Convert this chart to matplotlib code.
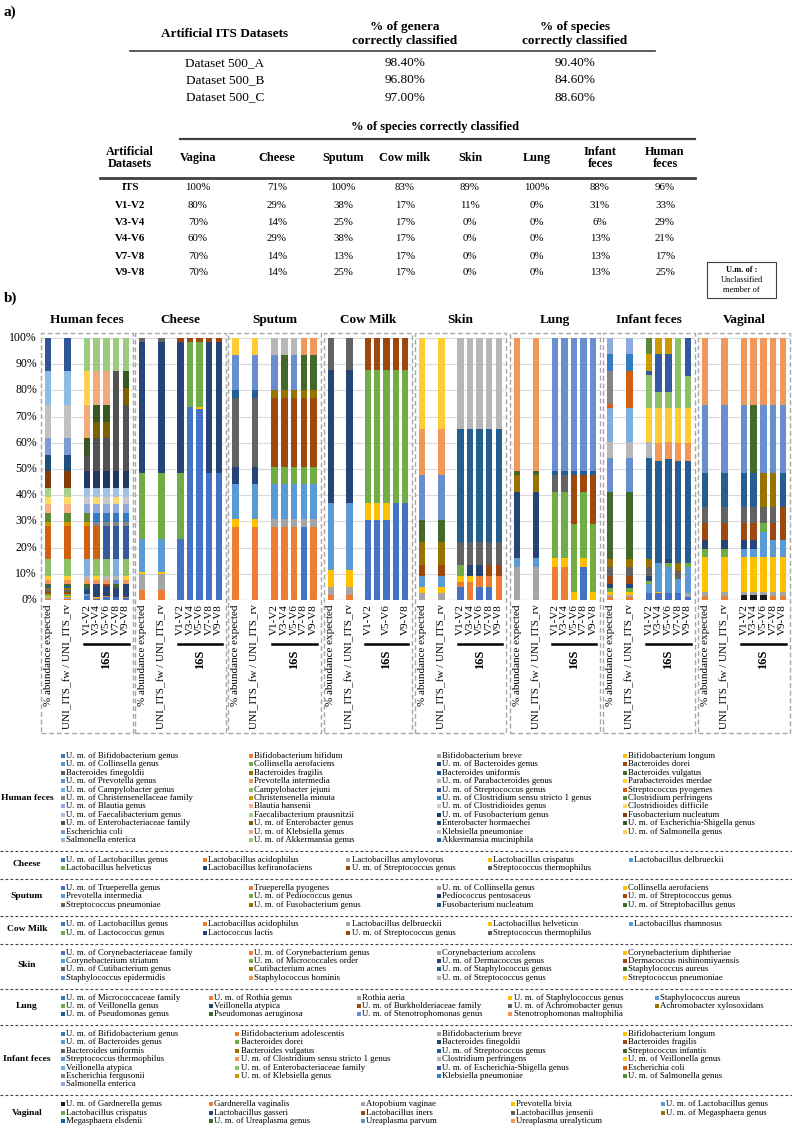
import matplotlib
matplotlib.use('Agg')
import matplotlib.pyplot as plt
from matplotlib.patches import Rectangle
from matplotlib.lines import Line2D
import math

plt.rcParams['font.family'] = ['Liberation Serif', 'DejaVu Serif']

W, H = 792, 1132
fig = plt.figure(figsize=(W / 100, H / 100), dpi=100)


def fx(x):
    return x / W


def fy(y):
    return 1 - y / H


def txt(x, y, s, **kw):
    kw.setdefault('ha', 'center')
    kw.setdefault('va', 'center')
    fig.text(fx(x), fy(y), s, **kw)


def hline(x0, x1, y, lw=1.0, color='#404040', ls='-'):
    fig.add_artist(Line2D([fx(x0), fx(x1)], [fy(y), fy(y)], lw=lw, color=color, ls=ls,
                          transform=fig.transFigure))


# ------------------------------------------------------------------ data: tables
tab1_header = ["Artificial ITS Datasets", "% of genera\ncorrectly classified", "% of species\ncorrectly classified"]
tab1_rows = ["Dataset 500_A", "Dataset 500_B", "Dataset 500_C"]
tab1_genera = ["98.40%", "96.80%", "97.00%"]
tab1_species = ["90.40%", "84.60%", "88.60%"]

tab2_cols = ["Vagina", "Cheese", "Sputum", "Cow milk", "Skin", "Lung", "Infant\nfeces", "Human\nfeces"]
tab2_rows = ["ITS", "V1-V2", "V3-V4", "V4-V6", "V7-V8", "V9-V8"]
tab2_values = [
    [100, 71, 100, 83, 89, 100, 88, 96],
    [80, 29, 38, 17, 11, 0, 31, 33],
    [70, 14, 25, 17, 0, 0, 6, 29],
    [60, 29, 38, 17, 0, 0, 13, 21],
    [70, 14, 13, 17, 0, 0, 13, 17],
    [70, 14, 25, 17, 0, 0, 13, 25],
]

# ------------------------------------------------------------------ data: stacked bars
# each column: {series number: % abundance}; series number = legend order
bar_columns = ["% abundance expected", "UNI_ITS_fw / UNI_ITS_rv", "V1-V2", "V3-V4", "V5-V6", "V7-V8", "V9-V8"]
cow_columns = ["% abundance expected", "UNI_ITS_fw / UNI_ITS_rv", "V1-V2", "", "V5-V6", "", "V9-V8"]

hf_expected = {2: 0.4, 3: 0.6, 4: 0.6, 6: 0.7, 8: 0.8, 9: 0.6, 10: 0.7, 11: 0.8, 12: 0.9, 14: 1.5, 16: 1.6,
               18: 6.4, 20: 12.8, 22: 1.5, 24: 3.4, 26: 3.2, 28: 2.9, 30: 3.2, 32: 6.6, 35: 6.1, 37: 6.4,
               39: 12.7, 41: 13.0, 43: 12.6}
human_feces_values = [
    hf_expected,
    hf_expected,
    {1: 1.5, 5: 0.7, 7: 1.5, 11: 0.8, 12: 1.6, 14: 1.5, 15: 1.6, 17: 6.4, 20: 12.8, 22: 1.5, 24: 3.4, 25: 3.2,
     27: 2.9, 29: 3.2, 31: 6.6, 33: 6.1, 36: 6.4, 38: 12.7, 40: 13.0, 42: 12.6},
    {1: 0.4, 2: 0.4, 4: 0.5, 7: 4.8, 14: 1.5, 16: 1.6, 18: 6.4, 20: 12.8, 21: 1.5, 23: 3.4, 25: 3.2, 28: 2.9,
     29: 3.2, 31: 6.6, 33: 12.5, 34: 6.3, 36: 6.4, 38: 13.0, 42: 12.6},
    {1: 1.0, 2: 0.5, 7: 4.0, 8: 0.6, 14: 1.5, 15: 1.6, 18: 6.4, 19: 12.8, 21: 1.5, 23: 3.4, 25: 3.2, 27: 2.9,
     29: 3.2, 31: 6.6, 33: 12.5, 34: 6.3, 36: 6.4, 38: 13.0, 42: 12.6},
    {1: 1.3, 7: 3.4, 12: 1.4, 13: 1.5, 15: 1.6, 17: 6.4, 19: 12.8, 21: 1.5, 23: 3.4, 25: 3.2, 28: 2.9, 29: 3.2,
     31: 6.6, 33: 38.2, 42: 12.6},
    {1: 0.8, 2: 0.5, 7: 4.8, 14: 1.5, 16: 1.6, 18: 6.4, 19: 12.8, 21: 1.5, 23: 3.4, 25: 3.2, 27: 2.9, 29: 3.2,
     31: 6.6, 33: 25.2, 34: 6.4, 36: 6.6, 42: 12.6},
]

cheese_expected = {2: 3.8, 3: 6.2, 4: 0.8, 5: 12.5, 6: 25.0, 7: 50.2, 9: 1.5}
cheese_values = [
    cheese_expected,
    cheese_expected,
    {1: 23.3, 6: 25.0, 7: 50.2, 8: 1.5},
    {1: 73.8, 6: 24.7, 8: 1.5},
    {1: 72.8, 4: 0.7, 6: 25.0, 8: 1.5},
    {1: 48.3, 7: 50.2, 8: 1.5},
    {1: 48.3, 7: 50.2, 8: 1.5},
]

sputum_expected = {2: 27.7, 4: 3.1, 5: 13.5, 7: 6.3, 9: 26.4, 11: 3.2, 13: 13.3, 16: 6.5}
sputum_values = [
    sputum_expected,
    sputum_expected,
    {2: 27.7, 3: 3.1, 5: 13.5, 6: 6.3, 8: 26.4, 10: 3.2, 13: 13.3, 15: 6.5},
    {2: 27.7, 3: 3.1, 5: 13.5, 6: 6.3, 8: 26.4, 10: 3.2, 12: 13.3, 15: 6.5},
    {2: 27.7, 3: 3.1, 5: 13.5, 6: 6.3, 8: 26.4, 10: 3.2, 13: 13.3, 15: 6.5},
    {1: 27.7, 3: 3.1, 5: 13.5, 6: 6.3, 8: 26.4, 10: 3.2, 12: 13.3, 14: 6.5},
    {2: 27.7, 3: 3.1, 5: 13.5, 6: 6.3, 8: 26.4, 10: 3.2, 12: 13.3, 14: 6.5},
]

cow_expected = {2: 1.9, 3: 2.9, 4: 6.7, 5: 25.4, 7: 50.9, 9: 12.2}
cow_milk_values = [
    cow_expected,
    cow_expected,
    {1: 30.5, 4: 6.4, 6: 50.9, 8: 12.2},
    {1: 30.5, 4: 6.4, 6: 50.9, 8: 12.2},
    {1: 30.5, 4: 6.4, 6: 50.9, 8: 12.2},
    {1: 36.9, 6: 50.9, 8: 12.2},
    {1: 36.9, 6: 50.9, 8: 12.2},
]

skin_expected = {3: 2.5, 4: 2.3, 5: 4.4, 8: 4.2, 10: 8.6, 12: 8.5, 13: 17.3, 14: 17.5, 16: 34.7}
skin_values = [
    skin_expected,
    skin_expected,
    {1: 4.8, 2: 2.2, 4: 2.2, 6: 4.2, 9: 8.6, 11: 43.3, 15: 34.7},
    {2: 7.0, 4: 2.2, 7: 4.2, 9: 8.6, 11: 43.3, 15: 34.7},
    {1: 4.8, 2: 4.4, 7: 4.2, 9: 8.6, 11: 43.3, 15: 34.7},
    {1: 4.8, 2: 4.4, 8: 4.2, 9: 8.6, 11: 43.3, 15: 34.7},
    {2: 9.2, 8: 4.2, 9: 8.6, 11: 43.3, 15: 34.7},
]

lung_expected = {3: 12.7, 5: 3.2, 7: 25.4, 10: 6.4, 12: 1.7, 14: 50.6}
lung_values = [
    lung_expected,
    lung_expected,
    {2: 12.7, 4: 3.2, 6: 25.4, 9: 6.4, 11: 1.7, 13: 50.6},
    {2: 12.7, 4: 3.2, 6: 25.4, 9: 6.4, 11: 1.7, 13: 50.6},
    {4: 3.2, 6: 25.7, 8: 18.8, 11: 1.7, 13: 50.6},
    {1: 12.7, 4: 3.2, 6: 25.4, 8: 6.4, 11: 1.7, 13: 50.6},
    {4: 3.2, 6: 25.7, 8: 18.8, 11: 1.7, 13: 50.6},
]

infant_feces_values = [
    {2: 1.3, 3: 0.6, 4: 1.3, 6: 1.3, 7: 1.6, 8: 3.1, 9: 3.3, 10: 3.0, 12: 25.6, 13: 13.0, 15: 6.3, 17: 12.8,
     20: 1.6, 21: 12.7, 23: 6.4, 25: 6.1},
    {2: 1.3, 3: 0.6, 4: 1.3, 6: 1.3, 7: 1.6, 8: 3.1, 9: 3.3, 10: 3.0, 12: 25.6, 13: 13.0, 15: 6.3, 17: 12.8,
     20: 14.3, 23: 6.4, 25: 6.1},
    {1: 2.5, 5: 3.6, 6: 1.3, 7: 1.8, 9: 3.3, 10: 3.0, 11: 38.6, 15: 6.3, 16: 12.8, 18: 12.7, 19: 1.6, 22: 6.4,
     24: 6.1},
    {1: 2.5, 4: 0.7, 5: 11.0, 11: 39.0, 14: 6.6, 16: 13.4, 18: 6.3, 19: 14.4, 22: 6.1},
    {1: 2.5, 5: 10.0, 6: 1.5, 7: 1.5, 11: 38.3, 14: 6.6, 16: 12.8, 18: 6.3, 19: 14.4, 22: 6.1},
    {1: 2.5, 5: 5.4, 9: 3.3, 10: 3.0, 11: 39.0, 14: 6.6, 16: 13.4, 18: 26.8},
    {1: 1.3, 3: 1.2, 5: 10.0, 6: 1.7, 11: 39.0, 14: 6.6, 16: 13.4, 18: 12.4, 19: 14.4},
]

vag_expected = {2: 1.7, 3: 1.5, 4: 13.1, 6: 3.2, 7: 3.4, 8: 6.4, 9: 6.3, 11: 13.0, 13: 25.8, 14: 25.6}
vaginal_values = [
    vag_expected,
    vag_expected,
    {1: 1.9, 3: 1.3, 4: 13.1, 5: 3.2, 7: 3.4, 8: 6.4, 9: 6.3, 11: 13.0, 13: 25.8, 14: 25.6},
    {1: 1.9, 3: 1.3, 4: 13.1, 5: 3.2, 7: 3.4, 8: 6.4, 9: 6.3, 11: 13.0, 12: 25.8, 14: 25.6},
    {1: 1.9, 3: 1.3, 4: 13.1, 5: 9.8, 6: 3.2, 9: 6.3, 10: 13.0, 13: 25.8, 14: 25.6},
    {2: 1.7, 3: 1.5, 4: 13.1, 5: 6.6, 8: 6.4, 9: 6.3, 10: 13.0, 13: 25.8, 14: 25.6},
    {2: 1.7, 3: 1.5, 4: 13.1, 5: 6.6, 8: 12.7, 11: 13.0, 13: 25.8, 14: 25.6},
]

# ------------------------------------------------------------------ data: legend names
human_feces_names = [
    "U. m. of Bifidobacterium genus", "Bifidobacterium bifidum", "Bifidobacterium breve", "Bifidobacterium longum",
    "U. m. of Collinsella genus", "Collinsella aerofaciens", "U. m. of Bacteroides genus", "Bacteroides dorei",
    "Bacteroides finegoldii", "Bacteroides fragilis", "Bacteroides uniformis", "Bacteroides vulgatus",
    "U. m. of Prevotella genus", "Prevotella intermedia", "U. m. of Parabacteroides genus", "Parabacteroides merdae",
    "U. m. of Campylobacter genus", "Campylobacter jejuni", "U. m. of Streptococcus genus", "Streptococcus pyogenes",
    "U. m. of Christensenellaceae family", "Christensenella minuta", "U. m. of Clostridium sensu stricto 1 genus",
    "Clostridium perfringens",
    "U. m. of Blautia genus", "Blautia hansenii", "U. m. of Clostridioides genus", "Clostridioides difficile",
    "U. m. of Faecalibacterium genus", "Faecalibacterium prausnitzii", "U. m. of Fusobacterium genus",
    "Fusobacterium nucleatum",
    "U. m. of Enterobacteriaceae family", "U. m. of Enterobacter genus", "Enterobacter hormaechei",
    "U. m. of Escherichia-Shigella genus",
    "Escherichia coli", "U. m. of Klebsiella genus", "Klebsiella pneumoniae", "U. m. of Salmonella genus",
    "Salmonella enterica", "U. m. of Akkermansia genus", "Akkermansia muciniphila"]
cheese_names = ["U. m. of Lactobacillus genus", "Lactobacillus acidophilus", "Lactobacillus amylovorus",
                "Lactobacillus crispatus", "Lactobacillus delbrueckii", "Lactobacillus helveticus",
                "Lactobacillus kefiranofaciens", "U. m. of Streptococcus genus", "Streptococcus thermophilus"]
sputum_names = ["U. m. of Trueperella genus", "Trueperella pyogenes", "U. m. of Collinsella genus",
                "Collinsella aerofaciens", "Prevotella intermedia", "U. m. of Pediococcus genus",
                "Pediococcus pentosaceus", "U. m. of Streptococcus genus", "Streptococcus pneumoniae",
                "U. m. of Fusobacterium genus", "Fusobacterium nucleatum", "U. m. of Streptobacillus genus"]
cow_milk_names = ["U. m. of Lactobacillus genus", "Lactobacillus acidophilus", "Lactobacillus delbrueckii",
                  "Lactobacillus helveticus", "Lactobacillus rhamnosus", "U. m. of Lactococcus genus",
                  "Lactococcus lactis", "U. m. of Streptococcus genus", "Streptococcus thermophilus"]
skin_names = ["U. m. of Corynebacteriaceae family", "U. m. of Corynebacterium genus", "Corynebacterium accolens",
              "Corynebacterium diphtheriae", "Corynebacterium striatum", "U. m. of Micrococcales order",
              "U. m. of Dermacoccus genus", "Dermacoccus nishinomiyaensis", "U. m. of Cutibacterium genus",
              "Cutibacterium acnes", "U. m. of Staphylococcus genus", "Staphylococcus aureus",
              "Staphylococcus epidermidis", "Staphylococcus hominis", "U. m. of Streptococcus genus",
              "Streptococcus pneumoniae"]
lung_names = ["U. m. of Micrococcaceae family", "U. m. of Rothia genus", "Rothia aeria",
              "U. m. of Staphylococcus genus", "Staphylococcus aureus", "U. m. of Veillonella genus",
              "Veillonella atypica", "U. m. of Burkholderiaceae family", "U. m. of Achromobacter genus",
              "Achromobacter xylosoxidans", "U. m. of Pseudomonas genus", "Pseudomonas aeruginosa",
              "U. m. of Stenotrophomonas genus", "Stenotrophomonas maltophilia"]
infant_feces_names = ["U. m. of Bifidobacterium genus", "Bifidobacterium adolescentis", "Bifidobacterium breve",
                      "Bifidobacterium longum", "U. m. of Bacteroides genus", "Bacteroides dorei",
                      "Bacteroides finegoldii", "Bacteroides fragilis", "Bacteroides uniformis",
                      "Bacteroides vulgatus", "U. m. of Streptococcus genus", "Streptococcus infantis",
                      "Streptococcus thermophilus", "U. m. of Clostridium sensu stricto 1 genus",
                      "Clostridium perfringens", "U. m. of Veillonella genus", "Veillonella atypica",
                      "U. m. of Enterobacteriaceae family", "U. m. of Escherichia-Shigella genus",
                      "Escherichia coli", "Escherichia fergusonii", "U. m. of Klebsiella genus",
                      "Klebsiella pneumoniae", "U. m. of Salmonella genus", "Salmonella enterica"]
vaginal_names = ["U. m. of Gardnerella genus", "Gardnerella vaginalis", "Atopobium vaginae", "Prevotella bivia",
                 "U. m. of Lactobacillus genus", "Lactobacillus crispatus", "Lactobacillus gasseri",
                 "Lactobacillus iners", "Lactobacillus jensenii", "U. m. of Megasphaera genus",
                 "Megasphaera elsdenii", "U. m. of Ureaplasma genus", "Ureaplasma parvum",
                 "Ureaplasma urealyticum"]

# ------------------------------------------------------------------ style
PALETTE = ['#4472C4', '#ED7D31', '#A5A5A5', '#FFC000', '#5B9BD5', '#70AD47',
           '#264478', '#9E480E', '#636363', '#997300', '#255E91', '#43682B',
           '#698ED0', '#F1975A', '#B7B7B7', '#FFCD33', '#7CAFDD', '#8CC168',
           '#335AA1', '#D26012', '#848484', '#CC9A00', '#327DC2', '#5A8A39',
           '#8FAADC', '#F4B183', '#C9C9C9', '#FFD966', '#9DC3E6', '#A9D18E',
           '#203864', '#843C0C', '#525252', '#7F6000', '#1F4E79', '#385723',
           '#7E9BD4', '#F3A97A', '#C0C0C0', '#FFD34D', '#8DBCE4', '#9BCB7C',
           '#2F5597']


def color_of(k, override):
    if override and k in override:
        return override[k]
    return PALETTE[(k - 1) % len(PALETTE)]


# ------------------------------------------------------------------ part a
txt(4, 12, "a)", ha='left', fontsize=11, fontweight='bold')
col1_x = [225, 405, 575]
txt(col1_x[0], 34, tab1_header[0], fontsize=9.5, fontweight='bold')
txt(col1_x[1], 34, tab1_header[1], fontsize=9.5, fontweight='bold', linespacing=1.15)
txt(col1_x[2], 34, tab1_header[2], fontsize=9.5, fontweight='bold', linespacing=1.15)
hline(130, 655, 51, lw=1.2)
for i, (r, g, s) in enumerate(zip(tab1_rows, tab1_genera, tab1_species)):
    y = 63 + i * 17.3
    txt(col1_x[0], y, r, fontsize=9.5)
    txt(col1_x[1], y, g, fontsize=9.5)
    txt(col1_x[2], y, s, fontsize=9.5)

txt(435, 127, "% of species correctly classified", fontsize=9, fontweight='bold')
hline(180, 695, 139, lw=1.6)
col2_x = [198, 277, 343, 405, 470, 537, 600, 665]
txt(130, 158, "Artificial\nDatasets", fontsize=8.8, fontweight='bold', linespacing=1.1)
for x, c in zip(col2_x, tab2_cols):
    txt(x, 158, c, fontsize=8.8, fontweight='bold', linespacing=1.1)
hline(100, 695, 178, lw=2.0)
for i, (r, vals) in enumerate(zip(tab2_rows, tab2_values)):
    y = 188 + i * 17
    txt(130, y, r, fontsize=7.8, fontweight='bold')
    for x, v in zip(col2_x, vals):
        txt(x, y, f"{v}%", fontsize=7.8)

fig.add_artist(Rectangle((fx(707), fy(298)), fx(776) - fx(707), fy(262) - fy(298), fill=False,
                         lw=0.8, edgecolor='#404040', transform=fig.transFigure))
txt(741.5, 270, "U.m. of :", fontsize=6, fontweight='bold')
txt(741.5, 280, "Unclassified", fontsize=6)
txt(741.5, 290, "member of", fontsize=6)

# ------------------------------------------------------------------ part b: bars
txt(4, 298, "b)", ha='left', fontsize=11, fontweight='bold')

Y0, Y100 = 600, 338
BOX_TOP, BOX_BOT = 333, 733
positions = [0, 2, 4, 5, 6, 7, 8]
XMIN, XMAX = -0.75, 8.75

panels = [
    ("Human feces", human_feces_values, (41, 133), bar_columns, None),
    ("Cheese", cheese_values, (135, 226), bar_columns, None),
    ("Sputum", sputum_values, (228, 321), bar_columns, None),
    ("Cow Milk", cow_milk_values, (324, 412), cow_columns, None),
    ("Skin", skin_values, (415, 506), bar_columns, None),
    ("Lung", lung_values, (510, 600), bar_columns, None),
    ("Infant feces", infant_feces_values, (603, 695), bar_columns, None),
    ("Vaginal", vaginal_values, (698, 790), bar_columns, {1: '#1A1A1A'}),
]

for title, cols, (x0, x1), labels, override in panels:
    ax = fig.add_axes([fx(x0), fy(Y0), fx(x1) - fx(x0), fy(Y100) - fy(Y0)])
    ax.set_xlim(XMIN, XMAX)
    ax.set_ylim(0, 100)
    ax.axis('off')
    for g in range(10, 101, 10):
        ax.axhline(g, color='#D9D9D9', lw=0.8, zorder=0)
    ax.axhline(0, color='#BFBFBF', lw=0.9, zorder=0)
    series = sorted(set(k for c in cols for k in c))
    bottoms = [0.0] * len(cols)
    for k in series:
        hts = [c.get(k, 0.0) for c in cols]
        ax.bar(positions, hts, bottom=bottoms, width=0.66, color=color_of(k, override),
               linewidth=0, zorder=2)
        bottoms = [b + h for b, h in zip(bottoms, hts)]

    def px(p):
        return x0 + (p - XMIN) / (XMAX - XMIN) * (x1 - x0)

    fig.add_artist(Rectangle((fx(x0), fy(BOX_BOT)), fx(x1) - fx(x0), fy(BOX_TOP) - fy(BOX_BOT),
                             fill=False, lw=1.0, edgecolor='#A6A6A6', ls=(0, (3.5, 2)),
                             transform=fig.transFigure))
    txt((x0 + x1) / 2, 320, title, fontsize=9.5, fontweight='bold')
    for p, lab in zip(positions, labels):
        if lab:
            txt(px(p), 604, lab, fontsize=8, rotation=90, va='top')
    hline(px(4) - 3, px(8) + 3, 644, lw=1.8, color='black')
    txt(px(6), 650, "16S", fontsize=9, fontweight='bold', rotation=90, va='top')

for g in range(0, 101, 10):
    txt(37, Y0 - g * (Y0 - Y100) / 100, f"{g}%", ha='right', fontsize=8.5)

# ------------------------------------------------------------------ legends
COLS4 = [63, 251, 439, 625]
legend_sections = [
    ("Human feces", human_feces_names, COLS4, None),
    ("Cheese", cheese_names, [63, 205, 348, 490, 631], None),
    ("Sputum", sputum_names, COLS4, None),
    ("Cow Milk", cow_milk_names, [63, 205, 348, 490, 631], None),
    ("Skin", skin_names, COLS4, None),
    ("Lung", lung_names, [63, 211, 359, 510, 657], None),
    ("Infant feces", infant_feces_names, [63, 237, 439, 625], None),
    ("Vaginal", vaginal_names, [63, 211, 363, 513, 663], {1: '#1A1A1A'}),
]
S = 8.4
y = 756.0
for si, (name, names, cx, override) in enumerate(legend_sections):
    ncol = len(cx)
    nrow = math.ceil(len(names) / ncol)
    for i, nm in enumerate(names):
        r, c = divmod(i, ncol)
        yy = y + r * S
        xx = cx[c]
        fig.add_artist(Rectangle((fx(xx - 2), fy(yy + 2)), fx(4), fy(0) - fy(4),
                                 color=color_of(i + 1, override), lw=0, transform=fig.transFigure))
        txt(xx + 3.5, yy, nm, ha='left', fontsize=6.3)
    txt(27, y + (nrow - 1) * S / 2, name, fontsize=6.8, fontweight='bold')
    last = y + (nrow - 1) * S
    if si < len(legend_sections) - 1:
        sep = last + 1.3 * S
        hline(0, 792, sep, lw=0.8, color='#404040', ls=(0, (2.5, 2)))
        y = sep + 1.05 * S

fig.savefig('out.png', dpi=100)
